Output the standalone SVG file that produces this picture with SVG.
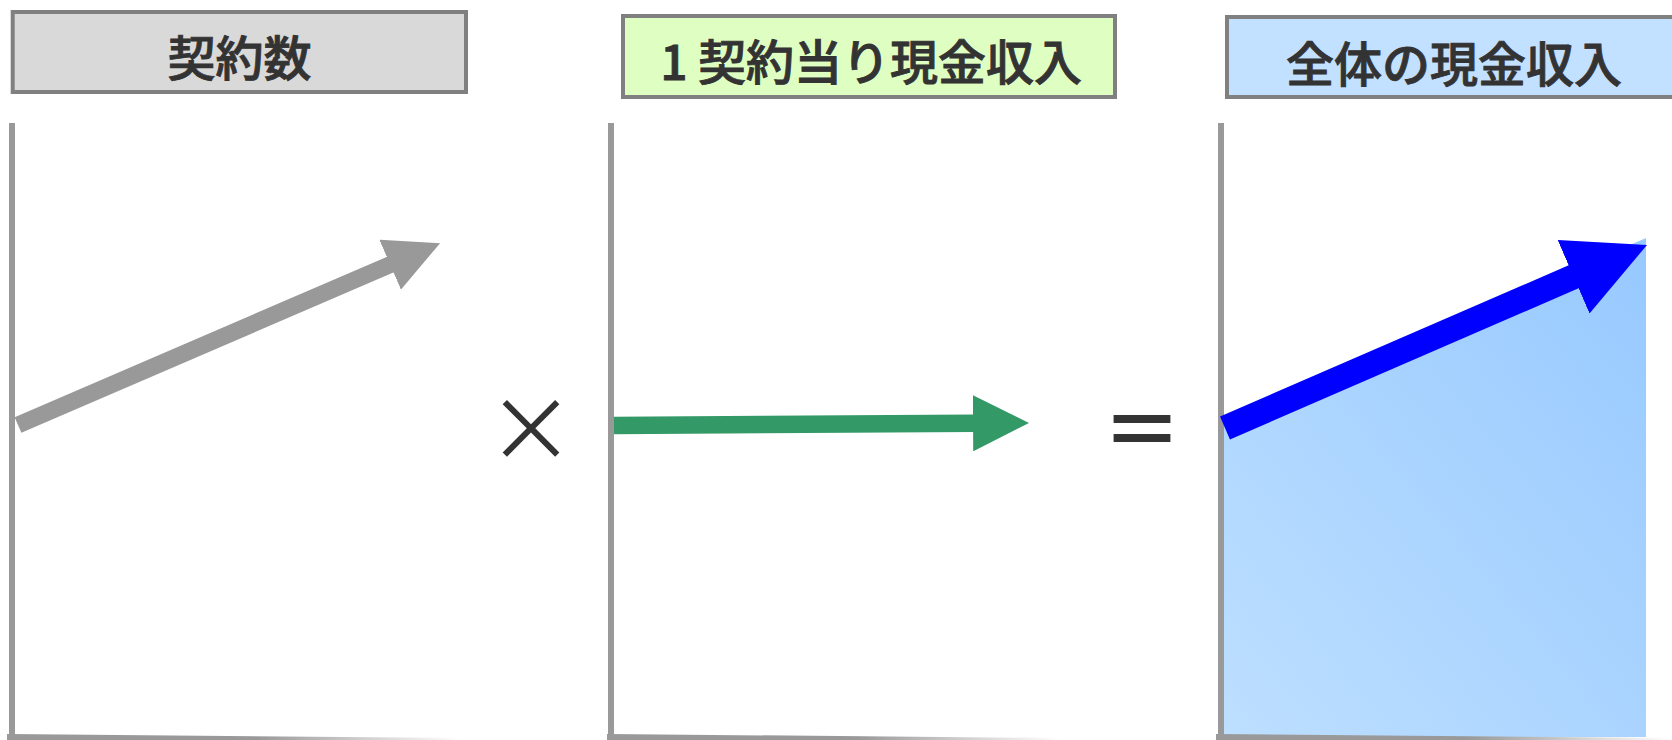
<svg xmlns="http://www.w3.org/2000/svg" width="1672" height="740" viewBox="0 0 1672 740">
  <defs>
    <style>
      .hdr { stroke: #808080; stroke-width: 4; }
      .hdr-text { font-family: "Noto Sans CJK JP", "Noto Sans", sans-serif; font-size: 48px; font-weight: 500; fill: #333333; stroke: #333333; stroke-width: 0.9px; dominant-baseline: central; }
      .axis { stroke: #999999; stroke-width: 6; fill: none; }
      .op { font-family: "Noto Sans CJK JP", "Liberation Sans", sans-serif; fill: #333333; text-anchor: middle; dominant-baseline: central; }
      .arrow { fill: none; stroke-linecap: butt; }
    </style>
    <linearGradient id="baseFade" x1="0" y1="0" x2="1" y2="0">
      <stop offset="0" stop-color="#999999"/>
      <stop offset="0.55" stop-color="#999999"/>
      <stop offset="1" stop-color="#ffffff"/>
    </linearGradient>
    <linearGradient id="areaFill" x1="0" y1="1" x2="1" y2="0">
      <stop offset="0" stop-color="#bddfff"/>
      <stop offset="1" stop-color="#97c9ff"/>
    </linearGradient>
    <marker id="headGray" viewBox="0 0 3.2 3.2" refX="0.1" refY="1.6" markerWidth="3.2" markerHeight="3.2" markerUnits="strokeWidth" orient="auto">
      <path d="M0,0 L3.2,1.6 L0,3.2 Z" fill="#999999"/>
    </marker>
    <marker id="headGreen" viewBox="0 0 3.2 3.2" refX="0.1" refY="1.6" markerWidth="3.2" markerHeight="3.2" markerUnits="strokeWidth" orient="auto">
      <path d="M0,0 L3.2,1.6 L0,3.2 Z" fill="#339966"/>
    </marker>
    <marker id="headBlue" viewBox="0 0 3.2 3.2" refX="0.1" refY="1.6" markerWidth="3.2" markerHeight="3.2" markerUnits="strokeWidth" orient="auto">
      <path d="M0,0 L3.2,1.6 L0,3.2 Z" fill="#0000ff"/>
    </marker>
  </defs>

  <rect width="1672" height="740" fill="#ffffff"/>

  <!-- Headers -->
  <g id="header-contracts">
    <rect class="hdr" x="12.7" y="12" width="453.3" height="80" fill="#d9d9d9"/>
    <text class="hdr-text" x="239.5" y="54.5" text-anchor="middle">契約数</text>
  </g>
  <g id="header-per-contract">
    <rect class="hdr" x="623" y="16" width="492" height="81" fill="#dfffc2"/>
    <text class="hdr-text" y="58.5"><tspan x="674" text-anchor="middle">1</tspan><tspan x="698" text-anchor="start">契約当り現金収入</tspan></text>
  </g>
  <g id="header-total">
    <rect class="hdr" x="1227" y="17" width="460" height="80" fill="#c2e0ff"/>
    <text class="hdr-text" x="1454" y="61" text-anchor="middle">全体の現金収入</text>
  </g>

  <!-- Charts -->
  <g id="chart-contracts">
    <line class="axis" x1="12" y1="123" x2="12" y2="736"/>
    <polygon points="7,734 460,738 460,740 7,740" fill="url(#baseFade)"/>
  </g>
  <g id="chart-per-contract">
    <line class="axis" x1="611" y1="123" x2="611" y2="736"/>
    <polygon points="607,734 1060,738 1060,740 607,740" fill="url(#baseFade)"/>
  </g>
  <g id="chart-total">
    <polygon points="1224,420 1646,238 1646,737 1224,737" fill="url(#areaFill)"/>
    <line class="axis" x1="1221" y1="123" x2="1221" y2="736"/>
    <polygon points="1216,734 1672,738 1672,740 1216,740" fill="url(#baseFade)"/>
  </g>

  <!-- Operators -->
  <g id="op-times">
    <text class="op" x="531" y="422" font-size="88">×</text>
  </g>
  <g id="op-equals">
    <text class="op" x="1142" y="424" font-size="80" font-weight="bold">＝</text>
  </g>

  <!-- Connectors (trend arrows) -->
  <g id="connectors">
    <line class="arrow" x1="18" y1="425" x2="391.7" y2="264" stroke="#999999" stroke-width="17" marker-end="url(#headGray)"/>
    <line class="arrow" x1="614" y1="425.5" x2="974.8" y2="423.3" stroke="#339966" stroke-width="17.5" marker-end="url(#headGreen)"/>
    <line class="arrow" x1="1225" y1="428" x2="1575.9" y2="275.8" stroke="#0000ff" stroke-width="25" marker-end="url(#headBlue)"/>
  </g>
</svg>
